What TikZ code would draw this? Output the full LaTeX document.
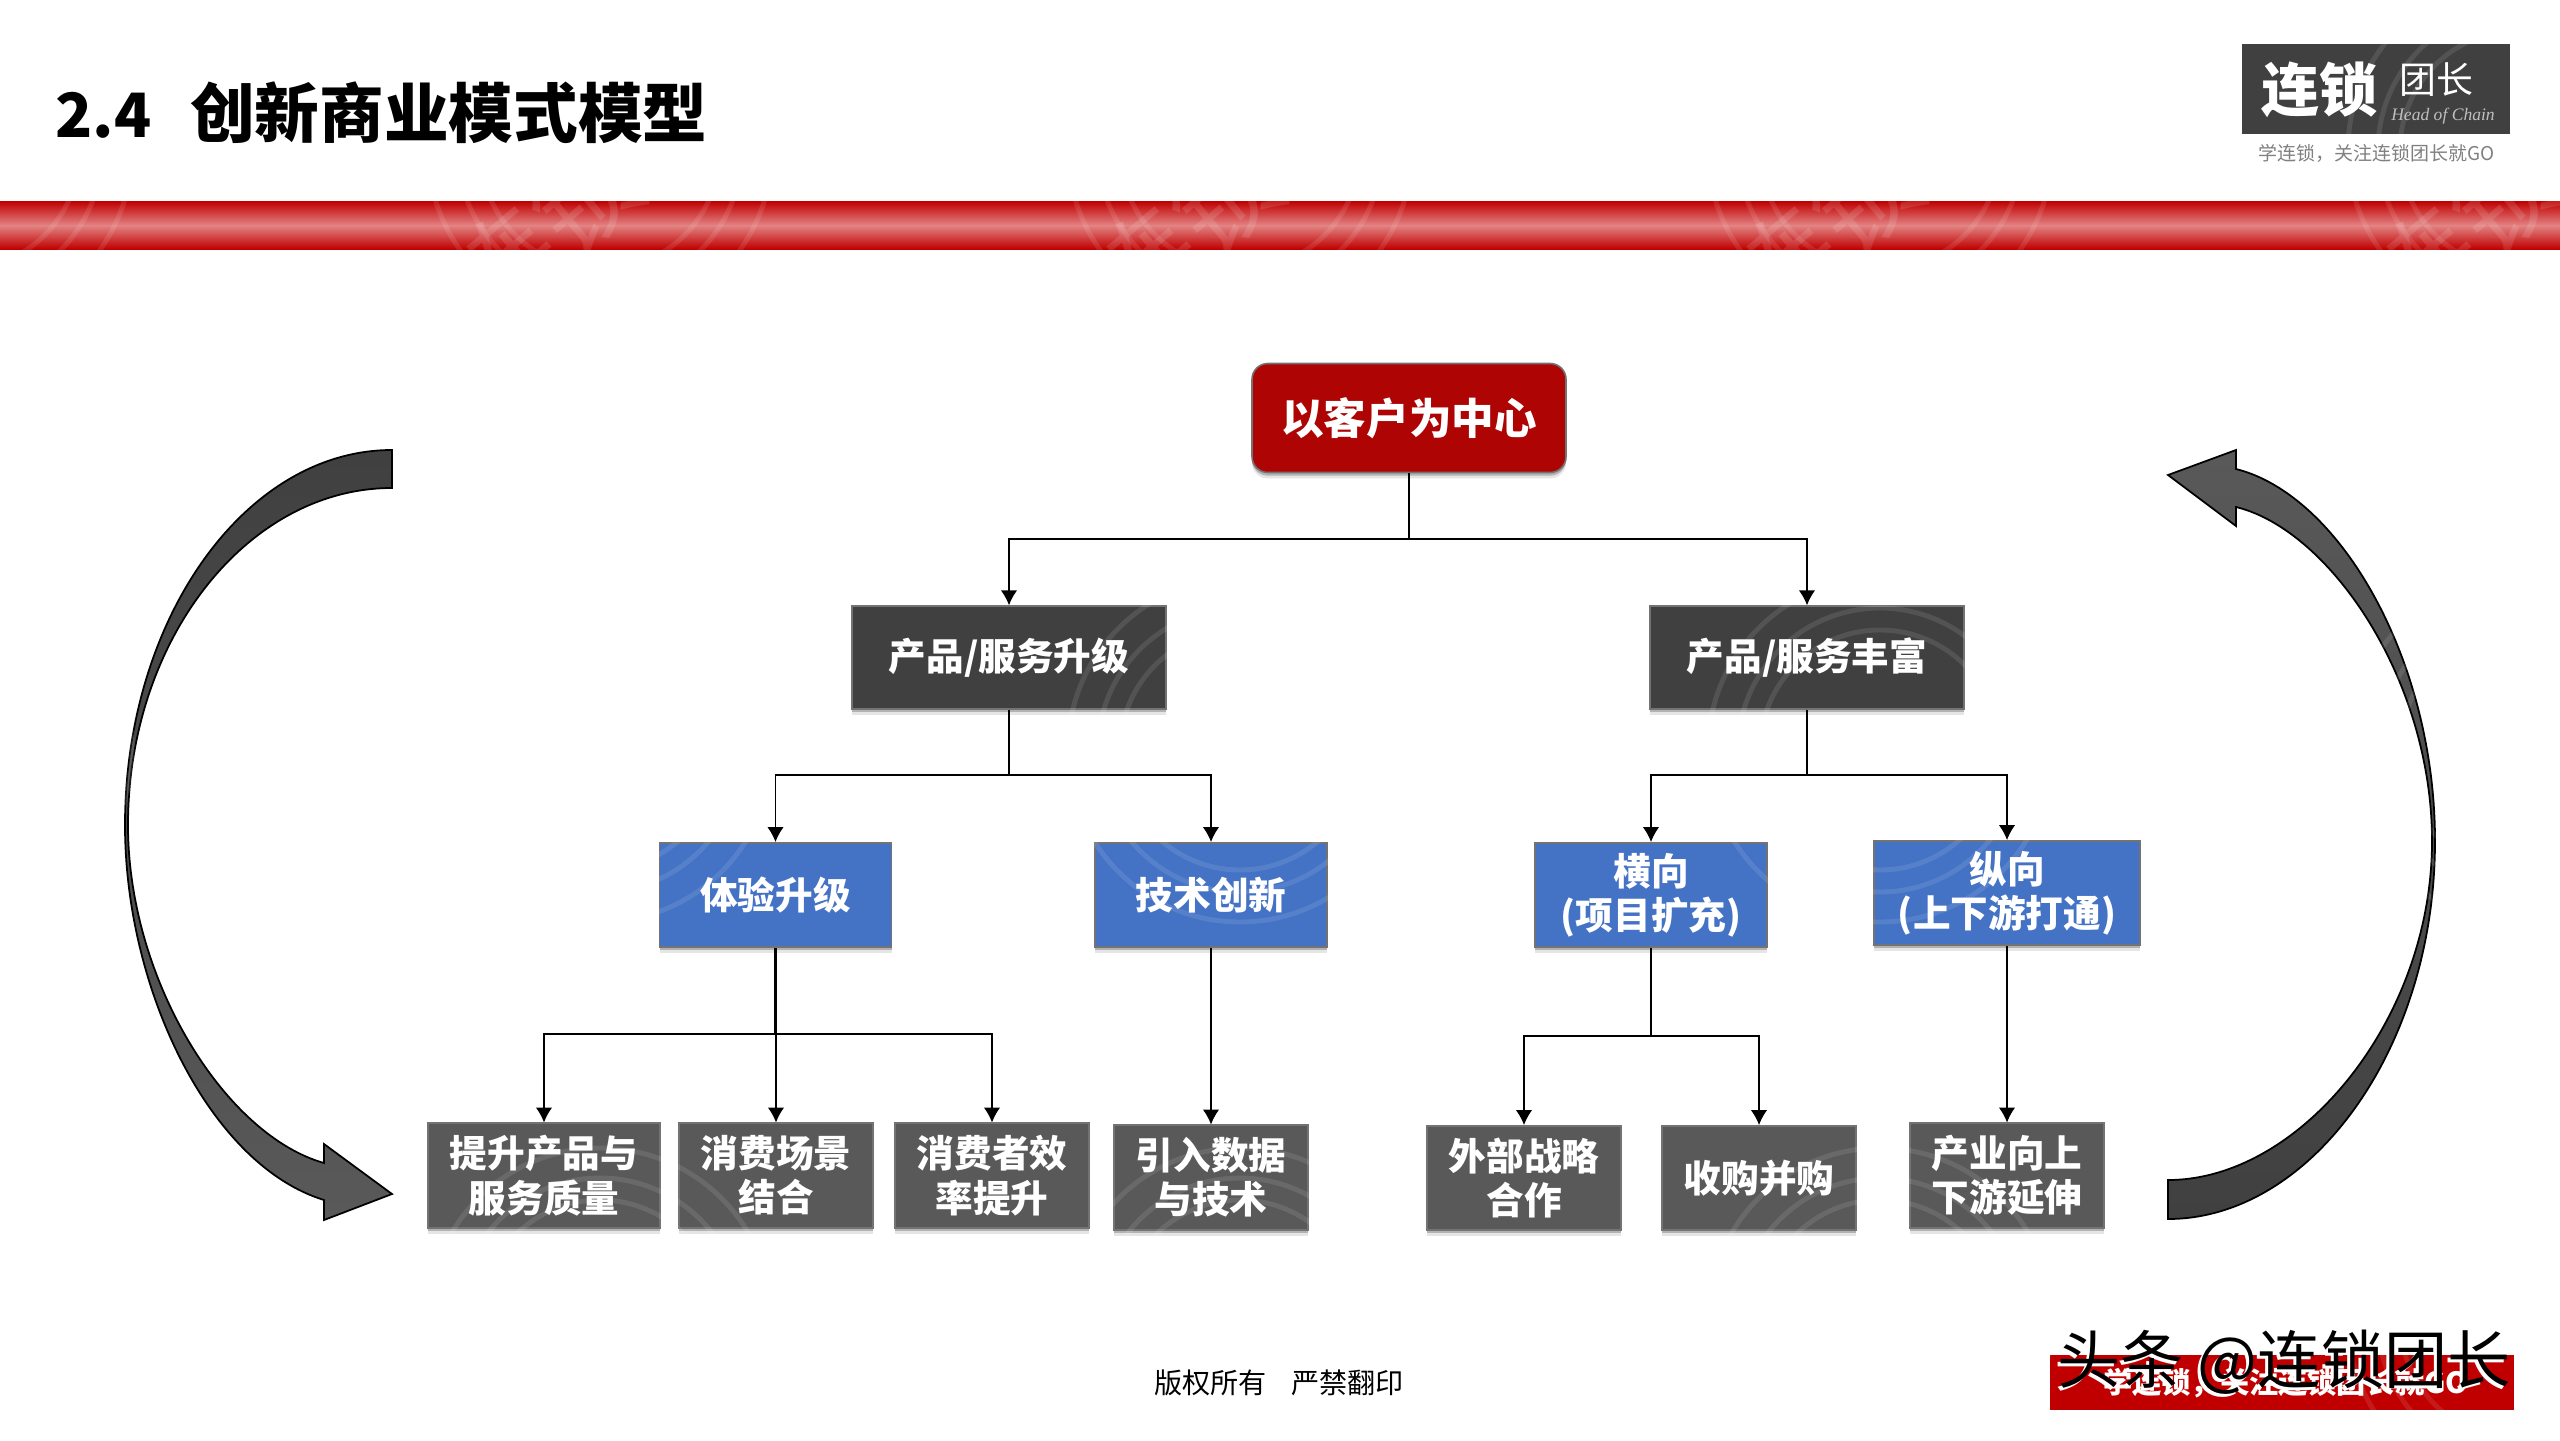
\documentclass[tikz,border=0pt]{standalone}
\usepackage{fontspec}
\setmainfont{Noto Sans CJK SC}
\newfontfamily\logolatin{Liberation Serif}
\usepackage{tikz}
\usetikzlibrary{arrows.meta, shadows}

\definecolor{brandred}{HTML}{C00000}
\definecolor{rootred}{HTML}{AE0404}
\definecolor{bandpale}{HTML}{E38585}
\definecolor{darkbox}{HTML}{404040}
\definecolor{midbox}{HTML}{595959}
\definecolor{bluebox}{HTML}{4472C4}
\definecolor{edgegray}{HTML}{737373}

\tikzset{
  boxshadow/.style={general shadow={shadow yshift=-1.7pt, fill=black, opacity=.10},
                    general shadow={shadow yshift=-0.9pt, fill=black, opacity=.22}},
  basebox/.style={draw=edgegray, line width=.45pt, boxshadow, inner sep=0pt, align=center, text=white,
                  font=\fontsize{10.7}{12.6}\selectfont\bfseries},
  rootbox/.style={basebox, fill=rootred, rounded corners=4.5pt, minimum width=3.14cm,
                  minimum height=1.09cm, font=\fontsize{12.1}{14}\selectfont\bfseries},
  groupbox/.style={basebox, fill=darkbox, minimum width=3.14cm, minimum height=1.03cm},
  bluenode/.style={basebox, fill=bluebox, minimum width=2.32cm, minimum height=1.045cm},
  leafbox/.style={basebox, fill=midbox, minimum width=1.94cm, minimum height=1.045cm},
  link/.style={line width=.32pt, black, -{Latex[length=4.2pt,width=4.6pt]}},
  trunk/.style={line width=.32pt, black},
  bigarrow/.style={draw=black, line width=.5pt, line join=miter},
  ringmark/.style={draw=white, opacity=.1, line width=1.4pt}
}

\begin{document}
\begin{tikzpicture}[x=1cm, y=-1cm]
  \useasboundingbox (0,0) rectangle (25.6,14.4);
  \fill[white] (0,0) rectangle (25.6,14.4);

  % red band under the title
  \shade[top color=brandred, bottom color=bandpale] (0,2.01) rectangle (25.6,2.26);
  \shade[top color=bandpale, bottom color=brandred] (0,2.25) rectangle (25.6,2.49);
  \begin{scope}
    \clip (0,2.01) rectangle (25.6,2.49);
    \foreach \x in {0,6.4,12.8,19.2,25.6}{
      \node[white, opacity=.12, rotate=40, font=\fontsize{30}{30}\selectfont] at (\x+5.45,2.3) {连锁};
    }
  \end{scope}

  % logo
  \fill[darkbox] (22.42,0.44) rectangle (25.10,1.34);
  \node[white, inner sep=0pt, font=\fontsize{16.5}{17}\selectfont\bfseries] (logomain) at (23.19,0.90) {连锁};
  \node[white, inner sep=0pt, font=\fontsize{10.5}{11}\selectfont] (logoside) at (24.36,0.80) {团长};
  \node[lightgray, inner sep=0pt, font=\fontsize{5}{6}\selectfont\logolatin\itshape] (logoen) at (24.43,1.16) {Head of Chain};

  % first two levels
  \node[rootbox] (root) at (14.09,4.18) {以客户为中心};
  \node[groupbox] (upgrade) at (10.09,6.575) {产品/服务升级};
  \node[groupbox] (enrich) at (18.07,6.575) {产品/服务丰富};

  % blue level
  \node[bluenode] (experience) at (7.755,8.95) {体验升级};
  \node[bluenode] (technology) at (12.11,8.95) {技术创新};
  \node[bluenode] (horizontal) at (16.51,8.95) {横向\\(项目扩充)};
  \node[bluenode, minimum width=2.66cm] (vertical) at (20.07,8.93) {纵向\\(上下游打通)};

  % bottom level
  \node[leafbox, minimum width=2.32cm] (quality) at (5.44,11.755) {提升产品与\\服务质量};
  \node[leafbox] (scene) at (7.76,11.755) {消费场景\\结合};
  \node[leafbox] (efficiency) at (9.92,11.755) {消费者效\\率提升};
  \node[leafbox] (dataintro) at (12.11,11.775) {引入数据\\与技术};
  \node[leafbox] (partner) at (15.24,11.78) {外部战略\\合作};
  \node[leafbox] (merger) at (17.59,11.78) {收购并购};
  \node[leafbox] (extend) at (20.07,11.755) {产业向上\\下游延伸};

  % big curved arrows
  \shade[top color=darkbox, bottom color=midbox, bigarrow]
    (3.92,4.50) .. controls (2.45,4.50) and (1.25,6.19) .. (1.25,8.25)
    .. controls (1.25,9.90) and (2.10,11.65) .. (3.24,12.00)
    -- (3.24,12.20) -- (3.92,11.94) -- (3.24,11.44) -- (3.24,11.63)
    .. controls (2.25,11.35) and (1.28,9.80) .. (1.28,8.25)
    .. controls (1.28,6.40) and (2.47,4.88) .. (3.92,4.88) -- cycle;
  \shade[top color=midbox, bottom color=darkbox, bigarrow]
    (21.68,4.75) -- (22.36,4.50) -- (22.36,4.69)
    .. controls (23.40,4.95) and (24.35,6.60) .. (24.35,8.41)
    .. controls (24.35,10.50) and (23.10,12.19) .. (21.68,12.19)
    -- (21.68,11.80)
    .. controls (23.00,11.80) and (24.32,10.20) .. (24.32,8.41)
    .. controls (24.32,6.80) and (23.30,5.30) .. (22.36,5.07)
    -- (22.36,5.26) -- cycle;

  % bottom red tag
  \fill[brandred] (20.50,13.55) rectangle (25.14,14.10);
  \node[white, inner sep=0pt, font=\fontsize{8.3}{9}\selectfont\bfseries] (redtag) at (22.86,13.83) {学连锁，关注连锁团长就GO};

  % faint rings over the whole slide
  \foreach \x in {-0.4,6.0,12.4,18.8,25.2}{
    \foreach \y in {1.5,7.5,13.2}{
      \foreach \r in {1.2,1.42,1.72}{
        \draw[ringmark] (\x,\y) circle (\r);
      }
    }
  }

  % connectors
  \coordinate (rootjoint) at (14.09,5.39);
  \coordinate (upgradejoint) at (10.09,7.75);
  \coordinate (enrichjoint) at (18.07,7.75);
  \coordinate (expjoint) at (7.755,10.34);
  \coordinate (horjoint) at (16.51,10.36);
  \draw[trunk] (root.south) -- (rootjoint);
  \draw[trunk] (upgrade.south) -- (upgradejoint);
  \draw[trunk] (enrich.south) -- (enrichjoint);
  \draw[trunk, line width=.6pt] (experience.south) -- (expjoint);
  \draw[trunk] (horizontal.south) -- (horjoint);
  \foreach \a/\b in {rootjoint/upgrade, rootjoint/enrich, upgradejoint/experience, upgradejoint/technology,
                     enrichjoint/horizontal, enrichjoint/vertical, expjoint/quality, expjoint/scene,
                     expjoint/efficiency, horjoint/partner, horjoint/merger}{
    \draw[link] (\a) -| (\b.north);
  }
  \draw[link] (technology.south) -- (dataintro.north);
  \draw[link] (vertical.south) -- (extend.north);

  % title and plain texts
  \node[anchor=west, inner sep=0pt, font=\fontsize{18.4}{20}\selectfont\bfseries] (title) at (0.55,1.13) {{\fontsize{17.4}{20}\selectfont 2.4}\hspace{11pt}创新商业模式模型};
  \node[gray, inner sep=0pt, font=\fontsize{5.4}{6}\selectfont] (logotag) at (23.765,1.53) {学连锁，关注连锁团长就GO};
  \node[inner sep=0pt, font=\fontsize{8}{9}\selectfont] (footer) at (12.79,13.83) {版权所有\hspace{7pt}严禁翻印};
  \node[white, inner sep=0pt, font=\fontsize{18}{19}\selectfont] (markwhite) at (22.81,13.65) {头条 @连锁团长};
  \node[black, inner sep=0pt, font=\fontsize{18}{19}\selectfont] (markblack) at (22.84,13.62) {头条 @连锁团长};
\end{tikzpicture}
\end{document}
